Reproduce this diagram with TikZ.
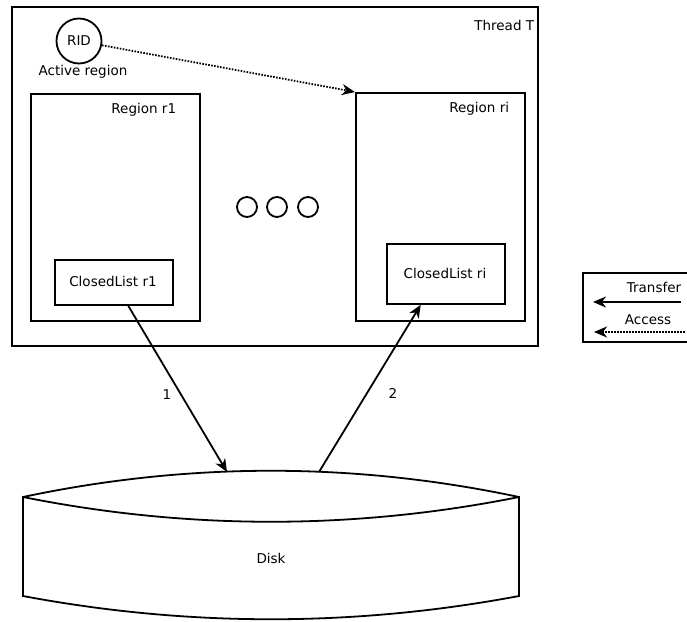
\documentclass[tikz,border=0pt]{standalone}
\usepackage{fontspec}
\setmainfont{DejaVu Sans}
\usetikzlibrary{arrows.meta,calc}
\begin{document}
\begin{tikzpicture}[x=1pt,y=-1pt,line width=1.8pt,
  font=\fontsize{13.5}{16}\selectfont,
  box/.style={draw,line width=1.8pt,inner sep=0pt,anchor=north west},
  lbl/.style={inner sep=0pt},
  dot/.style={draw,circle,inner sep=0pt,minimum size=20pt},
  transfer/.style={-{Stealth[length=13pt,width=11pt,inset=4pt]}},
  access/.style={transfer,dash pattern=on 1.6pt off 1.4pt}]
\useasboundingbox (0,0) rectangle (687,621);
% thread
\node[box,minimum width=526pt,minimum height=339pt] (thread) at (11,6) {};
\node[lbl,anchor=east] (threadlbl) at (535,25) {Thread T};
% RID
\node[draw,circle,inner sep=0pt,minimum size=45pt] (rid) at (79,41) {RID};
\node[lbl,anchor=base] (activelbl) at (83,75) {Active region};
% regions
\node[box,minimum width=169pt,minimum height=227pt] (r1) at (30,93) {};
\node[lbl,anchor=base east] (r1lbl) at (177,113) {Region r1};
\node[box,minimum width=169pt,minimum height=228pt] (ri) at (355,92) {};
\node[lbl,anchor=base east] (rilbl) at (510,112) {Region ri};
\node[box,minimum width=118pt,minimum height=45pt] (cl1) at (54,259) {};
\node[lbl] (cl1lbl) at (113,281.5) {ClosedList r1};
\node[box,minimum width=118pt,minimum height=60pt] (cli) at (386,243) {};
\node[lbl] (clilbl) at (445,273) {ClosedList ri};
% dots
\node[dot] (d1) at (247,207) {};
\node[dot] (d2) at (277,207) {};
\node[dot] (d3) at (308,207) {};
% disk
\draw (23,497) .. controls (188,462) and (354,462) .. (519,497) -- (519,596)
  .. controls (354,627) and (188,627) .. (23,596) -- cycle;
\draw (23,497) .. controls (188,530) and (354,530) .. (519,497);
\node[lbl] (disk) at (271,558) {Disk};
\coordinate (a1) at (227,472);
\coordinate (a2) at (319,472);
% connectors
\draw[access] (rid) -- (ri.north west);
\draw[transfer] ($(cl1.south west)!0.62!(cl1.south east)$) -- (a1);
\draw[transfer] (a2) -- ($(cli.south west)!0.29!(cli.south east)$);
\node[lbl] (one) at (167,395) {1};
\node[lbl] (two) at (393,393) {2};
% legend
\draw (687,273) -- (583,273) -- (583,342) -- (687,342);
\node[lbl] (transferlbl) at (654,287) {Transfer};
\node[lbl] (accesslbl) at (648,320) {Access};
\coordinate (t1) at (681,302);
\coordinate (t2) at (593,302);
\coordinate (s1) at (685,332);
\coordinate (s2) at (594,332);
\draw[transfer] (t1) -- (t2);
\draw[access] (s1) -- (s2);
\end{tikzpicture}
\end{document}
